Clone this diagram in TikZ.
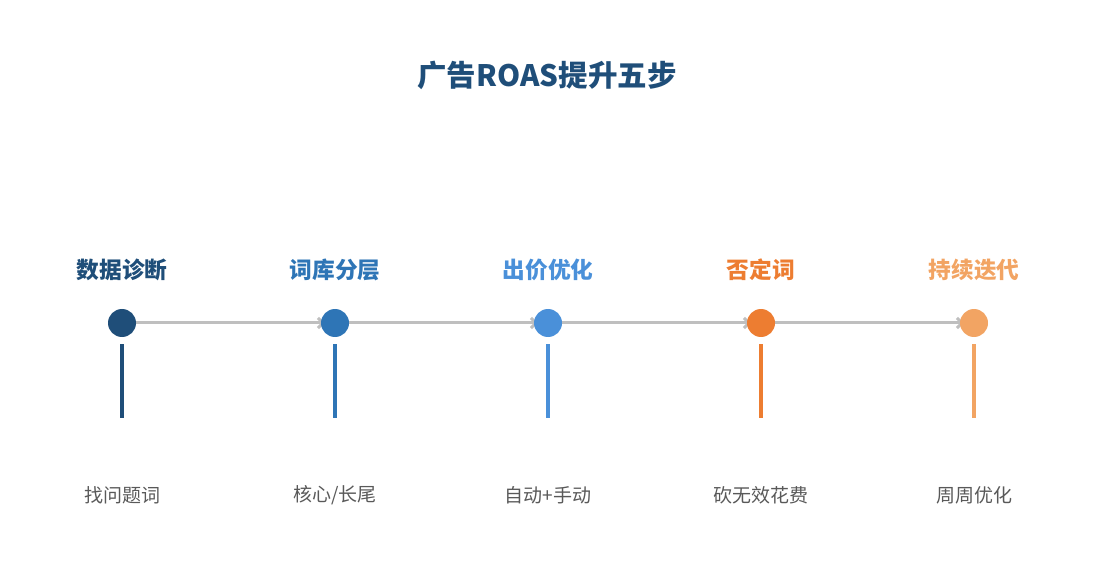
\documentclass[tikz,border=0pt]{standalone}
\usepackage{fontspec}
\setmainfont{Noto Sans CJK SC}
\usetikzlibrary{arrows.meta,backgrounds}
\definecolor{cA}{HTML}{1F4E79}
\definecolor{cB}{HTML}{2E75B6}
\definecolor{cC}{HTML}{4A90D9}
\definecolor{cD}{HTML}{ED7D31}
\definecolor{cE}{HTML}{F2A463}
\definecolor{lineg}{HTML}{BFBFBF}
\definecolor{txtg}{HTML}{595959}
\tikzset{
  dot/.style={circle,inner sep=0pt,minimum size=28pt,fill=#1},
  steplabel/.style={font=\bfseries\fontsize{22.7}{26}\selectfont,text=#1,inner sep=0pt},
  desclabel/.style={font=\fontsize{19}{22}\selectfont,text=txtg,inner sep=0pt},
  flow/.style={draw=lineg,line width=3pt,-{Straight Barb[length=5pt,width=10pt]},shorten >=10pt},
  stem/.style={line width=3.5pt,draw=#1},
}
\begin{document}
\begin{tikzpicture}[x=1pt,y=-1pt]
\useasboundingbox (0,0) rectangle (1095,585);
\node[font=\bfseries\fontsize{29.5}{34}\selectfont,text=cA,inner sep=0pt] (title) at (547,75) {广告ROAS提升五步};
\foreach \i/\x/\c/\s/\d in {1/122/cA/数据诊断/找问题词,2/335/cB/词库分层/{核心/长尾},3/548/cC/出价优化/自动+手动,4/761/cD/否定词/砍无效花费,5/974/cE/持续迭代/周周优化}{
  \node[dot=\c] (c\i) at (\x,323) {};
  \node[steplabel=\c] (s\i) at (\x,270) {\s};
  \node[desclabel] (d\i) at (\x,495) {\d};
  \coordinate (vt\i) at (\x,344);
  \coordinate (vb\i) at (\x,418);
  \draw[stem=\c] (vt\i) -- (vb\i);
}
\begin{scope}[on background layer]
\foreach \a/\b in {1/2,2/3,3/4,4/5}{
  \draw[flow] (c\a.center) -- (c\b.center);
}
\end{scope}
\end{tikzpicture}
\end{document}
